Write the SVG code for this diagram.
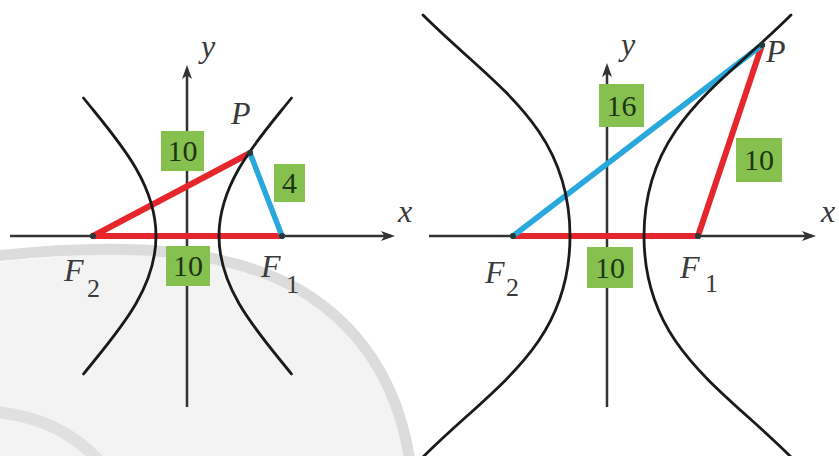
<svg xmlns="http://www.w3.org/2000/svg" width="839" height="456" viewBox="0 0 839 456">
<style>
.axis{stroke:#333;stroke-width:2.5;fill:none}
.curve{stroke:#1a1a1a;stroke-width:2.8;fill:none;stroke-linecap:round}
.red{stroke:#e5262c;stroke-width:6;stroke-linecap:round;fill:none}
.blue{stroke:#28a8dc;stroke-width:5.5;stroke-linecap:round;fill:none}
.box{fill:#86c04f}
.num{font-size:30px;fill:#1d3512;text-anchor:middle}
.lbl{font-size:32px;font-style:italic;fill:#3a3a3a}
.sub{font-style:normal;font-size:26px}
.dot{fill:#1f3b3b}
</style>
<defs>
<marker id="arr" viewBox="0 0 14 10" refX="10" refY="5" markerWidth="14" markerHeight="10" markerUnits="userSpaceOnUse" orient="auto">
<path d="M0,0 L14,5 L0,10 L3.5,5 Z" fill="#333"/>
</marker>
</defs>
<rect x="0" y="0" width="839" height="456" fill="#ffffff"/>
<g id="watermark">
<path d="M0,262 C120,250 230,246 300,292 C370,338 400,400 408,456 L0,456 Z" fill="#f3f3f3"/>
<path d="M-5,256 C110,244 220,244 300,290 C370,332 400,395 410,462" fill="none" stroke="#dcdcdc" stroke-width="11"/>
<path d="M-5,412 C40,416 75,434 100,462" fill="none" stroke="#e0e0e0" stroke-width="12"/>
</g>
<g id="axes">
<path class="axis" d="M10,236 H391" marker-end="url(#arr)"/>
<path class="axis" d="M187,407 V69" marker-end="url(#arr)"/>
<path class="axis" d="M429,236 H812" marker-end="url(#arr)"/>
<path class="axis" d="M607,407 V67" marker-end="url(#arr)"/>
</g>
<g id="connectors">
<path class="red" d="M93,236 L250,153"/>
<path class="red" d="M93,236 L282,236"/>
<path class="blue" d="M250,153 L282,236"/>
<path class="red" d="M513,236 L698,236"/>
<path class="red" d="M698,236 L762,45"/>
<path class="blue" d="M513,236 L762,45"/>
</g>
<g id="hyperbola-left">
<path class="curve" d="M291.5,98 C259.5,138 219,181 219,236 C219,291 259.5,334 291.5,374"/>
<path class="curve" d="M83.5,98 C115.5,138 156,181 156,236 C156,291 115.5,334 83.5,374"/>
</g>
<g id="hyperbola-right">
<path class="curve" d="M791,15 C721,85 644,126 644,236 C644,346 721,387 791,457"/>
<path class="curve" d="M423,15 C493,85 570,126 570,236 C570,346 493,387 423,457"/>
</g>
<g id="points">
<circle class="dot" cx="93" cy="236" r="3"/>
<circle class="dot" cx="282" cy="236" r="3"/>
<circle class="dot" cx="250" cy="153" r="3"/>
<circle class="dot" cx="513" cy="236" r="3"/>
<circle class="dot" cx="698" cy="236" r="3"/>
<circle class="dot" cx="762" cy="45" r="3"/>
</g>
<g font-family="Liberation Serif, DejaVu Serif, Times New Roman, serif">
<g id="label-left-top">
<rect class="box" x="161" y="131" width="43" height="40"/>
<text class="num" x="182.5" y="161">10</text>
</g>
<g id="label-left-right">
<rect class="box" x="274" y="164" width="31" height="38"/>
<text class="num" x="289.5" y="193">4</text>
</g>
<g id="label-left-bottom">
<rect class="box" x="166" y="246" width="44" height="40"/>
<text class="num" x="188" y="276">10</text>
</g>
<g id="label-right-top">
<rect class="box" x="599" y="84" width="45" height="43"/>
<text class="num" x="621.5" y="116">16</text>
</g>
<g id="label-right-right">
<rect class="box" x="736" y="138" width="46" height="44"/>
<text class="num" x="759" y="170">10</text>
</g>
<g id="label-right-bottom">
<rect class="box" x="587" y="247" width="46" height="41"/>
<text class="num" x="610" y="278">10</text>
</g>
<g id="text-left">
<text class="lbl" x="201" y="57">y</text>
<text class="lbl" x="398" y="222">x</text>
<text class="lbl" x="231" y="124">P</text>
<text class="lbl" x="64" y="281">F<tspan class="sub" x="87" y="297">2</tspan></text>
<text class="lbl" x="261" y="277">F<tspan class="sub" x="286" y="293">1</tspan></text>
</g>
<g id="text-right">
<text class="lbl" x="621" y="55">y</text>
<text class="lbl" x="821" y="222">x</text>
<text class="lbl" x="766" y="62">P</text>
<text class="lbl" x="485" y="283">F<tspan class="sub" x="506" y="296">2</tspan></text>
<text class="lbl" x="680" y="278">F<tspan class="sub" x="705" y="292">1</tspan></text>
</g>
</g>
</svg>
